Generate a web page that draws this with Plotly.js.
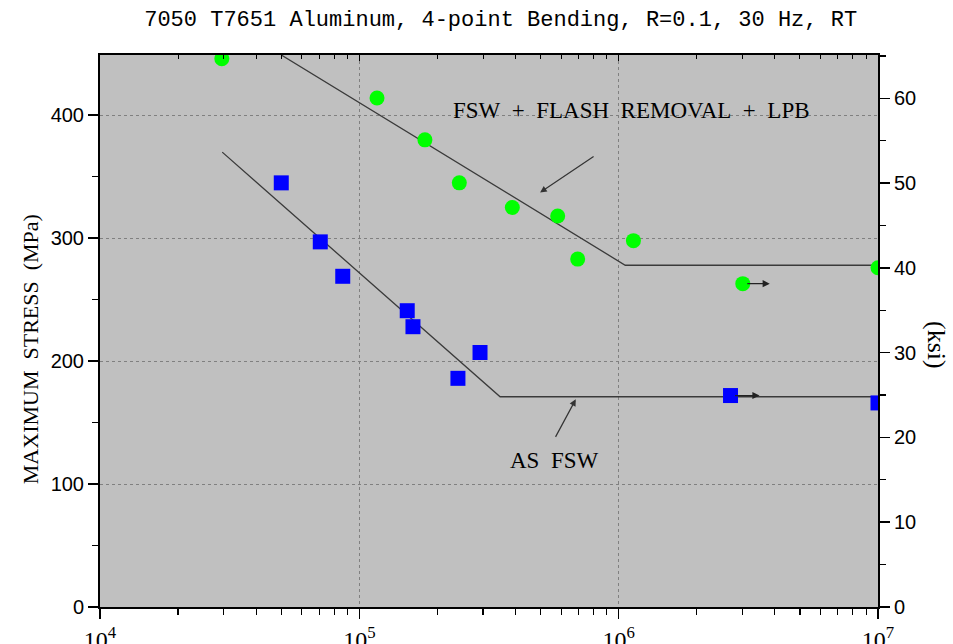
<!DOCTYPE html>
<html>
<head>
<meta charset="utf-8">
<script src="https://cdn.plot.ly/plotly-3.0.1.min.js"></script>
<style>
  html, body { margin: 0; padding: 0; background: #fff; }
  #chart { width: 953px; height: 644px; }
</style>
</head>
<body>
<div id="chart"></div>
<script>
// ---- Data ----
// FSW + flash removal + LPB (green circles): cycles, max stress (MPa)
const lpbCycles = [2.95e4, 1.17e5, 1.79e5, 2.43e5, 3.89e5, 5.82e5, 6.95e5, 1.14e6, 3.01e6, 1.0e7];
const lpbStress = [446, 414, 380, 345, 325, 318, 283, 298, 263, 276];
const lpbRunouts = [8, 9]; // indices of run-out points

// As FSW (blue squares)
const asCycles = [5.0e4, 7.07e4, 8.63e4, 1.53e5, 1.61e5, 2.40e5, 2.92e5, 2.70e6, 1.0e7];
const asStress = [345, 297, 269, 241, 228, 186, 207, 172, 166];
const asRunouts = [7, 8];

// Fitted S-N curves
const lpbFitCycles = [5.0e4, 1.06e6, 1.0e7];
const lpbFitStress = [449, 278, 278];
const asFitCycles = [2.96e4, 3.49e5, 1.0e7];
const asFitStress = [370, 171, 171];

// Axes
const xTickVals = [1e4, 1e5, 1e6, 1e7];
const xTickText = ['10<sup>4</sup>', '10<sup>5</sup>', '10<sup>6</sup>', '10<sup>7</sup>'];
const mpaRange = [0, 449];
const MPA_PER_KSI = 6.895;

const title = '7050 T7651 Aluminum, 4-point Bending, R=0.1, 30 Hz, RT';
const leftTitle = 'MAXIMUM\u00a0\u00a0STRESS\u00a0\u00a0(MPa)';
const rightTitle = '(ksi)';
const lpbLabel = 'FSW\u00a0\u00a0+\u00a0\u00a0FLASH\u00a0\u00a0REMOVAL\u00a0\u00a0+\u00a0\u00a0LPB';
const asLabel = 'AS\u00a0\u00a0FSW';

// ---- Build ----
const minorX = [];
for (let d = 4; d < 7; d++) for (let k = 2; k <= 9; k++) minorX.push(k * Math.pow(10, d));

const traces = [
  { x: lpbFitCycles, y: lpbFitStress, mode: 'lines', type: 'scatter',
    line: { color: '#3a3a3a', width: 1.3 }, hoverinfo: 'skip', showlegend: false },
  { x: asFitCycles, y: asFitStress, mode: 'lines', type: 'scatter',
    line: { color: '#3a3a3a', width: 1.3 }, hoverinfo: 'skip', showlegend: false },
  { x: lpbCycles, y: lpbStress, mode: 'markers', type: 'scatter',
    marker: { symbol: 'circle', size: 15, color: '#00ff00', line: { width: 0 } },
    showlegend: false, cliponaxis: true },
  { x: asCycles, y: asStress, mode: 'markers', type: 'scatter',
    marker: { symbol: 'square', size: 15, color: '#0000ff', line: { width: 0 } },
    showlegend: false, cliponaxis: true },
  { x: [], y: [], xaxis: 'x2', yaxis: 'y2', type: 'scatter', mode: 'markers',
    showlegend: false, hoverinfo: 'skip' }
];

const annotations = [];
function runout(n, s, len) {
  const lx = Math.log10(n);
  annotations.push({
    x: lx + (len + 3) / 259.3, y: s, xref: 'x', yref: 'y',
    ax: -len, ay: 0, axref: 'pixel', ayref: 'pixel',
    text: '', showarrow: true, arrowhead: 2, arrowsize: 1.1, arrowwidth: 1.3,
    arrowcolor: '#222'
  });
}
lpbRunouts.forEach(i => runout(lpbCycles[i], lpbStress[i], 24));
asRunouts.forEach(i => runout(asCycles[i], asStress[i], 26));

annotations.push(
  { x: 6.048, y: 404, xref: 'x', yref: 'y', text: lpbLabel, showarrow: false,
    xanchor: 'center', yanchor: 'middle',
    font: { family: 'Liberation Serif', size: 23, color: '#000' } },
  { x: 5.697, y: 337.2, xref: 'x', yref: 'y', ax: 55, ay: -37, text: '',
    showarrow: true, arrowhead: 2, arrowsize: 1.1, arrowwidth: 1.2, arrowcolor: '#333' },
  { x: 5.751, y: 119.5, xref: 'x', yref: 'y', text: asLabel, showarrow: false,
    xanchor: 'center', yanchor: 'middle',
    font: { family: 'Liberation Serif', size: 23, color: '#000' } },
  { x: 5.8345, y: 168.9, xref: 'x', yref: 'y', ax: -21, ay: 39, text: '',
    showarrow: true, arrowhead: 2, arrowsize: 1.1, arrowwidth: 1.2, arrowcolor: '#333' },
  { x: -0.09, y: 0.467, xref: 'paper', yref: 'paper', text: leftTitle, textangle: -90,
    xanchor: 'center', yanchor: 'middle',
    showarrow: false, font: { family: 'Liberation Serif', size: 22, color: '#000' } },
  { x: 1.0758, y: 0.4746, xref: 'paper', yref: 'paper', text: rightTitle, textangle: 90,
    xanchor: 'center', yanchor: 'middle',
    showarrow: false, font: { family: 'Liberation Serif', size: 26, color: '#000' } }
);

const tickFont = { family: 'Liberation Sans', size: 20, color: '#000' };

const layout = {
  width: 953, height: 644,
  margin: { l: 100, r: 75, t: 55, b: 37, pad: 0 },
  paper_bgcolor: '#ffffff',
  plot_bgcolor: '#c0c0c0',
  showlegend: false,
  title: { text: title, x: 0.515, xanchor: 'center', xref: 'paper',
           y: 1 - 18 / 644, yref: 'container', yanchor: 'middle',
           font: { family: 'Liberation Mono', size: 22, color: '#000' } },
  xaxis: {
    type: 'log', range: [4, 7], tickmode: 'array', tickvals: xTickVals, ticktext: xTickText,
    ticks: 'outside', ticklen: 10, tickwidth: 1.5, tickcolor: '#000',
    showline: true, linecolor: '#000', linewidth: 2, mirror: false,
    showgrid: true, gridcolor: '#808080', griddash: 'dot', gridwidth: 1,
    zeroline: false,
    minor: { tickmode: 'array', tickvals: minorX, ticks: 'outside', ticklen: 6,
             tickwidth: 1.2, tickcolor: '#000', showgrid: false },
    tickfont: { family: 'Liberation Serif', size: 24, color: '#000' }
  },
  xaxis2: {
    type: 'log', range: [4, 7], overlaying: 'x', side: 'top', anchor: 'y',
    tickmode: 'array', tickvals: xTickVals, showticklabels: false,
    ticks: 'inside', ticklen: 6, tickwidth: 1.2, tickcolor: '#000',
    showline: true, linecolor: '#000', linewidth: 2, showgrid: false, zeroline: false,
    minor: { tickmode: 'array', tickvals: minorX, ticks: 'inside', ticklen: 4,
             tickwidth: 1, tickcolor: '#000', showgrid: false }
  },
  yaxis: {
    range: mpaRange, dtick: 100, tick0: 0,
    ticks: 'outside', ticklen: 10, tickwidth: 1.5, tickcolor: '#000',
    showline: true, linecolor: '#000', linewidth: 2,
    showgrid: true, gridcolor: '#808080', griddash: 'dot', gridwidth: 1,
    zeroline: false,
    minor: { dtick: 50, ticks: 'outside', ticklen: 6, tickwidth: 1.2, tickcolor: '#000', showgrid: false },
    tickfont: tickFont
  },
  yaxis2: {
    range: [mpaRange[0] / MPA_PER_KSI, mpaRange[1] / MPA_PER_KSI], dtick: 10, tick0: 0,
    overlaying: 'y', side: 'right', anchor: 'x',
    ticks: 'outside', ticklen: 10, tickwidth: 1.5, tickcolor: '#000',
    showline: true, linecolor: '#000', linewidth: 2,
    showgrid: false, zeroline: false,
    minor: { dtick: 5, ticks: 'outside', ticklen: 6, tickwidth: 1.2, tickcolor: '#000', showgrid: false },
    tickfont: tickFont
  },
  annotations: annotations
};

Plotly.newPlot('chart', traces, layout, { staticPlot: true, displayModeBar: false });
</script>
</body>
</html>
